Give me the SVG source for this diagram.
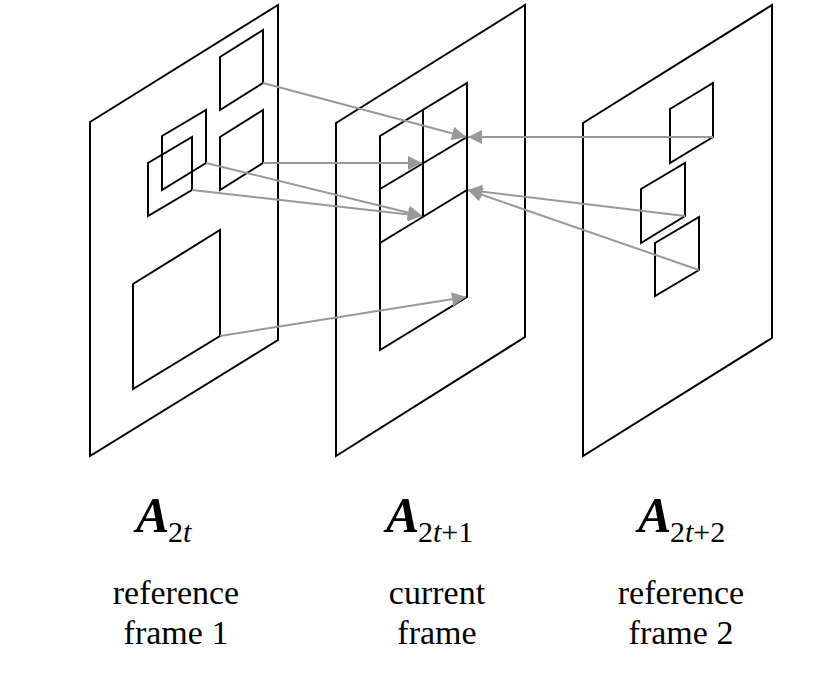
<svg xmlns="http://www.w3.org/2000/svg" width="838" height="674" viewBox="0 0 838 674">
<defs>
<style>
.f{fill:none;stroke:#000;stroke-width:2}
.c{stroke:#999;stroke-width:2;fill:none;marker-end:url(#ah)}
.A{font-family:'Liberation Serif','Times New Roman','DejaVu Serif',serif;font-style:italic;font-weight:bold;font-size:50px}
.s{font-family:'Liberation Serif','Times New Roman','DejaVu Serif',serif;font-size:30px}
.t{font-family:'Liberation Serif','Times New Roman','DejaVu Serif',serif;font-size:34px;text-anchor:middle}
</style>
<marker id="ah" viewBox="0 0 10 10" refX="10" refY="5" markerWidth="18" markerHeight="14" markerUnits="userSpaceOnUse" orient="auto"><path d="M0,0L10,5L0,10z" fill="#999"/></marker>
</defs>
<rect width="838" height="674" fill="#fff"/>
<g id="frame1">
<path class="f" d="M90,122L278,5L278,340L90,456Z"/>
<path class="f" d="M220,57L263,30L263,83L220,110Z"/>
<path class="f" d="M220,137L263,110L263,163L220,190Z"/>
<path class="f" d="M162,136L206,110L206,163L162,190Z"/>
<path class="f" d="M148,163L192,137L192,190L148,216Z"/>
<path class="f" d="M133,284L220,230L220,336L133,389Z"/>
</g>
<g id="frame2">
<path class="f" d="M336,123L525,5L525,337L336,456Z"/>
<path class="f" d="M380,136L467,83L467,297L380,350Z"/>
<path class="f" d="M380,189L467,137M380,243L467,190M423,110L423,216"/>
</g>
<g id="frame3">
<path class="f" d="M583,123L772,5L772,338L583,456Z"/>
<path class="f" d="M670,109L713,83L713,137L670,163Z"/>
<path class="f" d="M641,189L685,163L685,216L641,243Z"/>
<path class="f" d="M655,243L699,217L699,270L655,296Z"/>
</g>
<g id="connectors">
<line class="c" x1="263" y1="83" x2="466" y2="137"/>
<line class="c" x1="713" y1="137" x2="468" y2="137"/>
<line class="c" x1="263" y1="163" x2="422" y2="163"/>
<line class="c" x1="206" y1="163" x2="422" y2="216"/>
<line class="c" x1="192" y1="190" x2="422" y2="216"/>
<line class="c" x1="685" y1="216" x2="468" y2="190"/>
<line class="c" x1="699" y1="270" x2="468" y2="190"/>
<line class="c" x1="220" y1="336" x2="466" y2="297"/>
</g>
<g id="labels">
<text class="A" x="136" y="532">A</text><text class="s" x="168" y="542">2<tspan font-style="italic">t</tspan></text>
<text class="A" x="386" y="532">A</text><text class="s" x="418" y="542">2<tspan font-style="italic">t</tspan>+1</text>
<text class="A" x="638" y="532">A</text><text class="s" x="670" y="542">2<tspan font-style="italic">t</tspan>+2</text>
<text class="t" x="176" y="604">reference</text><text class="t" x="176" y="644">frame 1</text>
<text class="t" x="437" y="604">current</text><text class="t" x="437" y="644">frame</text>
<text class="t" x="681" y="604">reference</text><text class="t" x="681" y="644">frame 2</text>
</g>
</svg>
